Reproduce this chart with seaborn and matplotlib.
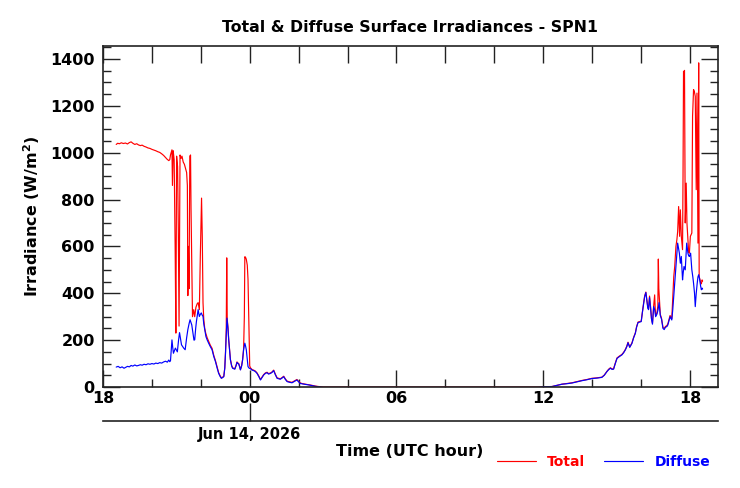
import numpy as np
import pandas as pd
import seaborn as sns
import matplotlib
matplotlib.use("Agg")
import matplotlib.pyplot as plt
from matplotlib.ticker import MultipleLocator, FixedLocator

# hours relative to Jun 14 2026 00 UTC, irradiance in W/m2
total_hours = [
    -5.46, -5.40, -5.33, -5.25, -5.17, -5.08, -5.00, -4.92, -4.85, -4.78,
    -4.70, -4.62, -4.55, -4.47, -4.40, -4.32, -4.24, -4.16, -4.08, -4.00,
    -3.92, -3.84, -3.76, -3.68, -3.60, -3.52, -3.45, -3.38, -3.31, -3.27,
    -3.24, -3.20, -3.18, -3.16, -3.13, -3.09, -3.05, -3.02, -2.99, -2.95,
    -2.92, -2.89, -2.85, -2.81, -2.77, -2.72, -2.67, -2.62, -2.58, -2.55,
    -2.53, -2.51, -2.48, -2.45, -2.42, -2.40, -2.37, -2.34, -2.29, -2.25,
    -2.20, -2.15, -2.11, -2.06, -2.02, -1.99, -1.97, -1.94, -1.91, -1.88,
    -1.84, -1.80, -1.74, -1.68, -1.61, -1.54, -1.47, -1.40, -1.33, -1.27,
    -1.21, -1.16, -1.11, -1.06, -1.02, -0.99, -0.96, -0.94, -0.92, -0.89,
    -0.86, -0.82, -0.79, -0.74, -0.70, -0.65, -0.61, -0.56, -0.52, -0.48,
    -0.45, -0.41, -0.38, -0.33, -0.29, -0.25, -0.22, -0.20, -0.17, -0.14,
    -0.10, -0.07, -0.04, 0.00, 0.03, 0.10, 0.16, 0.23, 0.30, 0.37,
    0.44, 0.50, 0.57, 0.64, 0.71, 0.77, 0.85, 0.91, 0.98, 1.05,
    1.12, 1.18, 1.25, 1.32, 1.39, 1.46, 1.53, 1.63, 1.73, 1.83,
    1.93, 2.00, 2.07, 2.17, 2.28, 2.41, 2.55, 2.68, 2.82, 3.00,
    4.50, 6.00, 7.50, 9.00, 10.50, 11.80, 12.02, 12.36, 12.57, 12.77,
    12.97, 13.18, 13.38, 13.59, 13.79, 13.99, 14.20, 14.40, 14.50, 14.61,
    14.68, 14.75, 14.82, 14.88, 14.95, 15.02, 15.12, 15.22, 15.29, 15.36,
    15.42, 15.47, 15.54, 15.59, 15.63, 15.70, 15.77, 15.82, 15.88, 15.95,
    16.01, 16.06, 16.11, 16.15, 16.20, 16.24, 16.28, 16.31, 16.35, 16.39,
    16.43, 16.47, 16.52, 16.56, 16.58, 16.60, 16.65, 16.69, 16.71, 16.73,
    16.76, 16.79, 16.84, 16.90, 16.95, 17.00, 17.06, 17.10, 17.15, 17.19,
    17.23, 17.26, 17.30, 17.34, 17.38, 17.43, 17.47, 17.50, 17.54, 17.58,
    17.61, 17.65, 17.70, 17.72, 17.74, 17.76, 17.78, 17.80, 17.81, 17.85,
    17.88, 17.92, 17.95, 17.98, 18.02, 18.08, 18.11, 18.15, 18.18, 18.22,
    18.26, 18.29, 18.31, 18.33, 18.36, 18.38, 18.41, 18.44, 18.47, 18.50,
    18.52,
]
total_wm2 = [
    1035, 1040, 1038, 1042, 1039, 1041, 1037, 1043, 1046, 1040,
    1035, 1038, 1033, 1030, 1032, 1027, 1024, 1020, 1018, 1014,
    1011, 1008, 1004, 1001, 995, 988, 980, 972, 966, 970,
    990, 1005, 1012, 860, 1008, 970, 600, 230, 985, 940,
    670, 260, 990, 975, 985, 960, 950, 930, 915, 860,
    390, 600, 420, 985, 990, 760, 520, 300, 330, 300,
    340, 355, 360, 330, 560, 700, 806, 640, 360, 290,
    250, 230, 210, 195, 178, 165, 135, 112, 84, 61,
    48, 39, 42, 46, 82, 150, 250, 551, 290, 255,
    205, 154, 118, 92, 82, 80, 78, 92, 107, 102,
    100, 87, 74, 92, 118, 162, 300, 556, 553, 545,
    520, 460, 300, 90, 82, 74, 72, 68, 60, 47,
    32, 42, 53, 60, 63, 57, 60, 64, 72, 54,
    39, 37, 35, 40, 46, 34, 25, 22, 20, 26,
    32, 24, 17, 14, 12, 10, 7, 4, 2, 0,
    0, 0, 0, 0, 0, 0, 1, 2, 7, 12,
    15, 18, 23, 28, 32, 37, 39, 42, 51, 67,
    76, 82, 77, 78, 102, 124, 132, 139, 148, 160,
    174, 191, 171, 180, 188, 212, 231, 257, 277, 279,
    281, 322, 360, 388, 405, 373, 340, 333, 388, 345,
    293, 272, 347, 393, 340, 305, 315, 345, 546, 420,
    362, 310, 293, 254, 250, 258, 262, 270, 290, 305,
    296, 292, 380, 470, 514, 600, 630, 663, 770, 643,
    756, 643, 586, 900, 1347, 1330, 1351, 900, 700, 870,
    700, 628, 575, 571, 643, 657, 1155, 1269, 1262, 1240,
    842, 1254, 900, 614, 1383, 470, 460, 445, 440, 457,
    452,
]

diffuse_hours = [
    -5.46, -5.38, -5.30, -5.22, -5.14, -5.07, -5.00, -4.92, -4.85, -4.78,
    -4.70, -4.62, -4.55, -4.47, -4.40, -4.32, -4.24, -4.16, -4.08, -4.00,
    -3.92, -3.84, -3.76, -3.68, -3.60, -3.52, -3.44, -3.37, -3.31, -3.27,
    -3.24, -3.21, -3.18, -3.15, -3.12, -3.08, -3.04, -3.00, -2.96, -2.91,
    -2.87, -2.83, -2.79, -2.74, -2.70, -2.64, -2.58, -2.53, -2.48, -2.44,
    -2.40, -2.37, -2.32, -2.28, -2.25, -2.21, -2.18, -2.14, -2.11, -2.08,
    -2.06, -2.02, -1.98, -1.95, -1.91, -1.88, -1.84, -1.79, -1.74, -1.68,
    -1.61, -1.54, -1.47, -1.40, -1.33, -1.27, -1.21, -1.16, -1.11, -1.06,
    -1.02, -0.99, -0.96, -0.93, -0.89, -0.86, -0.82, -0.79, -0.74, -0.70,
    -0.65, -0.61, -0.56, -0.52, -0.48, -0.45, -0.41, -0.38, -0.33, -0.29,
    -0.25, -0.20, -0.17, -0.14, -0.10, -0.07, -0.02, 0.03, 0.10, 0.16,
    0.23, 0.30, 0.37, 0.44, 0.50, 0.57, 0.64, 0.71, 0.77, 0.85,
    0.91, 0.98, 1.05, 1.12, 1.18, 1.25, 1.32, 1.39, 1.46, 1.53,
    1.63, 1.73, 1.83, 1.93, 2.00, 2.07, 2.17, 2.28, 2.41, 2.55,
    2.68, 2.82, 3.00, 4.50, 6.00, 7.50, 9.00, 10.50, 11.80, 12.02,
    12.36, 12.57, 12.77, 12.97, 13.18, 13.38, 13.59, 13.79, 13.99, 14.20,
    14.40, 14.50, 14.61, 14.68, 14.75, 14.82, 14.88, 14.95, 15.02, 15.12,
    15.22, 15.29, 15.36, 15.42, 15.47, 15.54, 15.59, 15.63, 15.70, 15.77,
    15.82, 15.88, 15.95, 16.01, 16.06, 16.11, 16.15, 16.20, 16.24, 16.28,
    16.31, 16.35, 16.39, 16.43, 16.47, 16.52, 16.56, 16.60, 16.65, 16.70,
    16.74, 16.79, 16.84, 16.90, 16.95, 17.00, 17.06, 17.10, 17.15, 17.19,
    17.23, 17.26, 17.30, 17.33, 17.37, 17.40, 17.44, 17.47, 17.50, 17.54,
    17.57, 17.61, 17.65, 17.68, 17.70, 17.73, 17.76, 17.81, 17.84, 17.87,
    17.92, 17.95, 17.98, 18.03, 18.08, 18.12, 18.15, 18.19, 18.22, 18.26,
    18.30, 18.33, 18.36, 18.39, 18.41, 18.44, 18.47, 18.50, 18.52,
]
diffuse_wm2 = [
    85, 88, 82, 86, 80, 84, 88, 86, 92, 89,
    94, 90, 92, 95, 93, 97, 95, 99, 97, 100,
    98, 102, 100, 104, 102, 107, 110, 106, 115, 108,
    112, 160, 201, 170, 144, 155, 166, 158, 150, 200,
    232, 205, 180, 172, 166, 159, 210, 245, 270, 287,
    275, 265, 230, 200, 201, 250, 279, 310, 330, 312,
    301, 310, 316, 308, 301, 270, 245, 215, 201, 187,
    172, 159, 130, 108, 80, 58, 45, 37, 40, 44,
    80, 144, 220, 294, 250, 201, 150, 116, 90, 80,
    78, 76, 90, 105, 100, 98, 85, 73, 90, 116,
    160, 187, 175, 159, 120, 87, 80, 78, 72, 70,
    66, 58, 45, 30, 40, 51, 58, 61, 55, 58,
    62, 70, 52, 37, 35, 33, 38, 44, 32, 23,
    20, 18, 24, 30, 22, 15, 13, 11, 9, 6,
    3, 1, -2, -2, -2, -2, -2, -2, -2, 1,
    2, 7, 12, 14, 17, 22, 27, 31, 36, 38,
    41, 50, 66, 74, 80, 75, 76, 100, 122, 130,
    137, 146, 158, 172, 189, 169, 178, 186, 210, 229,
    255, 275, 277, 279, 320, 357, 385, 403, 370, 336,
    330, 382, 340, 290, 268, 343, 330, 300, 310, 330,
    360, 305, 290, 250, 245, 255, 258, 265, 285, 300,
    292, 286, 330, 372, 425, 472, 521, 570, 614, 590,
    571, 528, 557, 500, 457, 490, 514, 500, 560, 614,
    571, 560, 557, 571, 500, 470, 443, 400, 343, 400,
    443, 470, 479, 465, 450, 430, 415, 422, 418,
]

hour_ticks = [-6, 0, 6, 12, 18]
hour_labels = ["18", "00", "06", "12", "18"]
date_label = "Jun 14, 2026"

total_df = pd.DataFrame({"hour": total_hours, "wm2": total_wm2})
diffuse_df = pd.DataFrame({"hour": diffuse_hours, "wm2": diffuse_wm2})

sns.set_style("ticks")
plt.rcParams["font.family"] = ["DejaVu Sans"]
plt.rcParams["font.weight"] = "bold"
plt.rcParams["axes.labelweight"] = "bold"
plt.rcParams["mathtext.default"] = "bf"
plt.rcParams["text.color"] = "black"
plt.rcParams["axes.labelcolor"] = "black"
plt.rcParams["xtick.color"] = "black"
plt.rcParams["ytick.color"] = "black"
plt.rcParams["axes.edgecolor"] = "black"

fig = plt.figure(figsize=(7.4, 4.88), dpi=100)
ax = fig.add_axes([103 / 740, 101 / 488, 615 / 740, 341 / 488])

sns.lineplot(data=total_df, x="hour", y="wm2", color="#ff0000", lw=0.85,
             estimator=None, sort=False, label="Total", ax=ax)
sns.lineplot(data=diffuse_df, x="hour", y="wm2", color="#0000ff", lw=0.85,
             estimator=None, sort=False, label="Diffuse", ax=ax)

ax.set_xlim(-6, 19.15)
ax.set_ylim(0, 1455)
ax.xaxis.set_major_locator(FixedLocator(hour_ticks))
ax.set_xticklabels(hour_labels)
ax.xaxis.set_minor_locator(MultipleLocator(2))
ax.yaxis.set_major_locator(MultipleLocator(200))
ax.yaxis.set_minor_locator(MultipleLocator(50))
ax.tick_params(which="both", direction="in", right=True, top=False,
               labelsize=11.5, width=1, color="#222222", labelcolor="black")
ax.tick_params(which="major", length=12)
ax.tick_params(which="minor", length=6)
ax.tick_params(axis="x", pad=3)
ax.tick_params(axis="y", pad=6)
for sp in ax.spines.values():
    sp.set_linewidth(1.2)
    sp.set_color("#222222")

# ticks along the top edge
top = ax.secondary_xaxis("top")
top.set_xticks(list(range(-6, 19, 2)))
top.tick_params(direction="in", length=12, width=1, labeltop=False, color="#222222")
top.spines["top"].set_visible(False)

# date axis under the hour axis
date_ax = ax.secondary_xaxis(-0.1)
date_ax.set_xticks([0], labels=[date_label])
date_ax.tick_params(direction="in", length=13, width=1, labelsize=10.5, pad=4,
                    color="#222222", labelcolor="black")
date_ax.spines["bottom"].set_linewidth(1.2)
date_ax.spines["bottom"].set_color("#222222")

ax.set_xlabel("")
ax.set_ylabel(r"Irradiance (W/m$^{2}$)", fontsize=11.5)
ax.yaxis.set_label_coords(-0.10, 0.5)

fig.text(410 / 740, 1 - 27 / 488, "Total & Diffuse Surface Irradiances - SPN1",
         ha="center", va="center", fontsize=11.3)
fig.text(410 / 740, 1 - 452 / 488, "Time (UTC hour)",
         ha="center", va="center", fontsize=11.5)

handles, labels = ax.get_legend_handles_labels()
ax.get_legend().remove()
fig.legend(handles, labels, loc="center right", bbox_to_anchor=(710 / 740, 26 / 488),
           ncol=2, frameon=False, labelcolor="linecolor", handlelength=2.8,
           handletextpad=0.8, columnspacing=1.4, fontsize=10, borderpad=0,
           borderaxespad=0)

fig.savefig("out.png", dpi=100)
